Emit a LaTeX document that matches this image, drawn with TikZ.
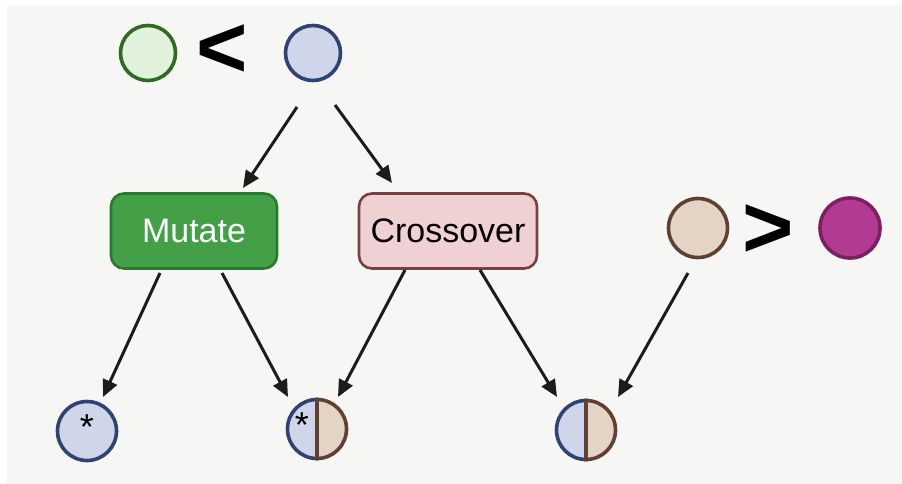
\documentclass[tikz,border=0pt]{standalone}
\usepackage{fontspec}
\setmainfont{Liberation Sans}
\usetikzlibrary{arrows.meta}
\definecolor{bg}{HTML}{F6F6F4}
\definecolor{greenF}{HTML}{E0F3DA}
\definecolor{greenS}{HTML}{2F6B22}
\definecolor{blueF}{HTML}{CFD6E9}
\definecolor{blueS}{HTML}{2E4373}
\definecolor{mutF}{HTML}{43A047}
\definecolor{mutS}{HTML}{2A7A2E}
\definecolor{croF}{HTML}{EFD1D3}
\definecolor{croS}{HTML}{7A3F3F}
\definecolor{tanF}{HTML}{E4D4C6}
\definecolor{tanS}{HTML}{5F4033}
\definecolor{magF}{HTML}{B23A90}
\definecolor{magS}{HTML}{7E1F61}
\definecolor{arrowc}{HTML}{1C1C1C}
\begin{document}
\begin{tikzpicture}[x=1pt,y=-1pt,
  dot/.style={circle,line width=3.6pt,inner sep=0pt,minimum size=#1},
  box/.style={rounded corners=13pt,line width=2.6pt,minimum width=166pt,minimum height=75pt,font=\fontsize{34}{40}\selectfont},
  arr/.style={line width=3pt,draw=arrowc,-{Triangle[length=17pt,width=15pt]}},
  cmp/.style={font=\bfseries\fontsize{88}{88}\selectfont,inner sep=0pt},
  star/.style={font=\fontsize{36}{36}\selectfont,inner sep=0pt}]
\useasboundingbox (0,0) rectangle (902,484);
\fill[white] (0,0) rectangle (902,484);
\fill[bg] (7,5) rectangle (902,484);
% top row
\node[dot=55pt,draw=greenS,fill=greenF] (g) at (148,53) {};
\node[cmp] (lt) at (222,51) {<};
\node[dot=55pt,draw=blueS,fill=blueF] (b) at (313,53) {};
% operators
\node[box,fill=mutF,draw=mutS,text=white] (mut) at (194,231) {Mutate};
\node[box,fill=croF,draw=croS,minimum width=178pt] (cro) at (448,231) {Crossover};
% right comparison
\node[dot=59pt,draw=tanS,fill=tanF] (t) at (698,228) {};
\node[cmp] (gt) at (768,231) {>};
\node[dot=60pt,draw=magS,fill=magF] (m) at (850,228) {};
% bottom row
\node[dot=59pt,draw=blueS,fill=blueF] (c1) at (87,431) {};
\node[star] (s1) at (87,427) {*};
\node[dot=59pt,inner sep=0pt] (c2) at (317,429) {};
\path[fill=blueF,draw=blueS,line width=3.6pt] (c2.center) ++(0,-29.5) arc[start angle=90,end angle=270,radius=29.5pt] -- cycle;
\path[fill=tanF,draw=tanS,line width=3.6pt] (c2.center) ++(0,29.5) arc[start angle=270,end angle=450,radius=29.5pt] -- cycle;
\node[star] (s2) at (302,425) {*};
\node[dot=59pt,inner sep=0pt] (c3) at (586,430) {};
\path[fill=blueF,draw=blueS,line width=3.6pt] (c3.center) ++(0,-29.5) arc[start angle=90,end angle=270,radius=29.5pt] -- cycle;
\path[fill=tanF,draw=tanS,line width=3.6pt] (c3.center) ++(0,29.5) arc[start angle=270,end angle=450,radius=29.5pt] -- cycle;
% connectors
\draw[arr] ([shift={(-16,54)}]b.center) -- ([shift={(49,-43)}]mut.center);
\draw[arr] ([shift={(22,52)}]b.center) -- ([shift={(-56,-48)}]cro.center);
\draw[arr] ([shift={(-34,42)}]mut.center) -- ([shift={(16,-34)}]c1.center);
\draw[arr] ([shift={(28,42)}]mut.center) -- ([shift={(-29,-32)}]c2.center);
\draw[arr] ([shift={(-43,39)}]cro.center) -- ([shift={(21,-32)}]c2.center);
\draw[arr] ([shift={(32,39)}]cro.center) -- ([shift={(-29,-33)}]c3.center);
\draw[arr] ([shift={(-10,45)}]t.center) -- ([shift={(32,-33)}]c3.center);
\end{tikzpicture}
\end{document}
